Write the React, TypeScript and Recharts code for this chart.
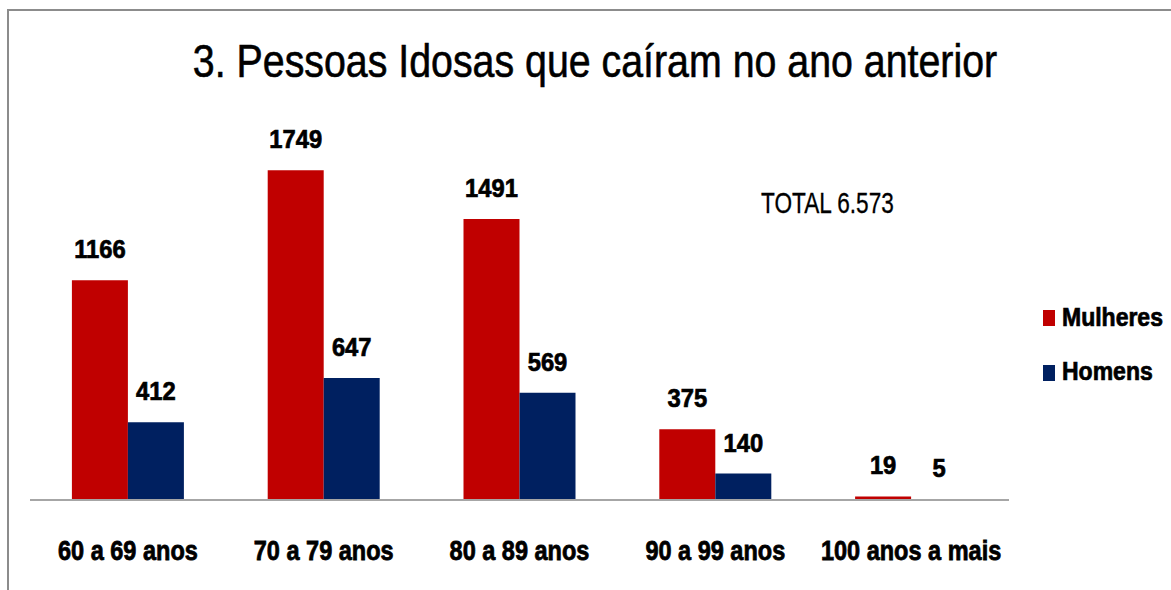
import { BarChart, Bar, XAxis, YAxis, LabelList } from "recharts"

const categories = ["60 a 69 anos", "70 a 79 anos", "80 a 89 anos", "90 a 99 anos", "100 anos a mais"]
const mulheres = [1166, 1749, 1491, 375, 19]
const homens = [412, 647, 569, 140, 5]
const totalLabel = "TOTAL 6.573"
const title = "3. Pessoas Idosas que caíram no ano anterior"
const seriesNames = ["Mulheres", "Homens"]
const seriesColors = ["#C00000", "#002060"]

const data = categories.map((c, i) => ({ faixa: c, Mulheres: mulheres[i], Homens: homens[i] }))

const font = "'Liberation Sans', Arial, sans-serif"

function CategoryTick({ x, y, payload }: { x?: number; y?: number; payload?: { value: string } }) {
  return (
    <g transform={`translate(${x ?? 0},${(y ?? 0) + 60}) scale(0.84,1)`}>
      <text
        x={0}
        y={0}
        textAnchor="middle"
        fontFamily={font}
        fontWeight="bold"
        fontSize={28}
        fill="#000"
        stroke="#000"
        strokeWidth={0.8}
      >
        {payload?.value}
      </text>
    </g>
  )
}

function ValueLabel(props: any) {
  const { x, y, width, value } = props
  const cx = Number(x) + Number(width) / 2
  return (
    <g transform={`translate(${cx},${Number(y) - 22}) scale(0.95,1)`}>
      <text
        x={0}
        y={0}
        textAnchor="middle"
        fontFamily={font}
        fontWeight="bold"
        fontSize={25}
        fill="#000"
        stroke="#000"
        strokeWidth={0.7}
      >
        {value}
      </text>
    </g>
  )
}

export default function App() {
  return (
    <div style={{ position: "absolute", left: 0, top: 0, width: 1171, height: 590, background: "#fff" }}>
      <div
        style={{
          position: "absolute",
          left: 7,
          top: 9,
          width: 1164,
          height: 581,
          borderTop: "2px solid #8c8c8c",
          borderLeft: "2px solid #8c8c8c",
        }}
      />
      <div style={{ position: "absolute", top: 0, left: 0 }}>
        <BarChart
          width={1171}
          height={590}
          data={data}
          margin={{ top: 123, right: 162, left: 30, bottom: 0 }}
          barCategoryGap="21.4%"
          barGap={0}
        >
          <XAxis
            dataKey="faixa"
            height={90}
            tickLine={false}
            tickSize={0}
            tickMargin={0}
            axisLine={{ stroke: "#a6a6a6", strokeWidth: 2 }}
            tick={<CategoryTick />}
            interval={0}
          />
          <YAxis hide domain={[0, 2000]} />
          <Bar dataKey="Mulheres" fill={seriesColors[0]} isAnimationActive={false}>
            <LabelList dataKey="Mulheres" content={<ValueLabel />} />
          </Bar>
          <Bar dataKey="Homens" fill={seriesColors[1]} isAnimationActive={false}>
            <LabelList dataKey="Homens" content={<ValueLabel />} />
          </Bar>
        </BarChart>
      </div>
      <svg width={1171} height={590} style={{ position: "absolute", left: 0, top: 0, pointerEvents: "none" }}>
        <g transform="translate(595,77) scale(0.855,1)">
          <text x={0} y={0} textAnchor="middle" fontFamily={font} fontSize={46} fill="#000" stroke="#000" strokeWidth={0.6}>
            {title}
          </text>
        </g>
        <g transform="translate(761,213) scale(0.78,1)">
          <text x={0} y={0} fontFamily={font} fontSize={29} fill="#000" stroke="#000" strokeWidth={0.3}>
            {totalLabel}
          </text>
        </g>
        {seriesNames.map((name, i) => (
          <g key={name}>
            <rect x={1043} y={310 + i * 55} width={12} height={16} fill={seriesColors[i]} />
            <g transform={`translate(1062,${326 + i * 54}) scale(0.92,1)`}>
              <text x={0} y={0} fontFamily={font} fontWeight="bold" fontSize={25} fill="#000" stroke="#000" strokeWidth={0.7}>
                {name}
              </text>
            </g>
          </g>
        ))}
      </svg>
    </div>
  )
}
